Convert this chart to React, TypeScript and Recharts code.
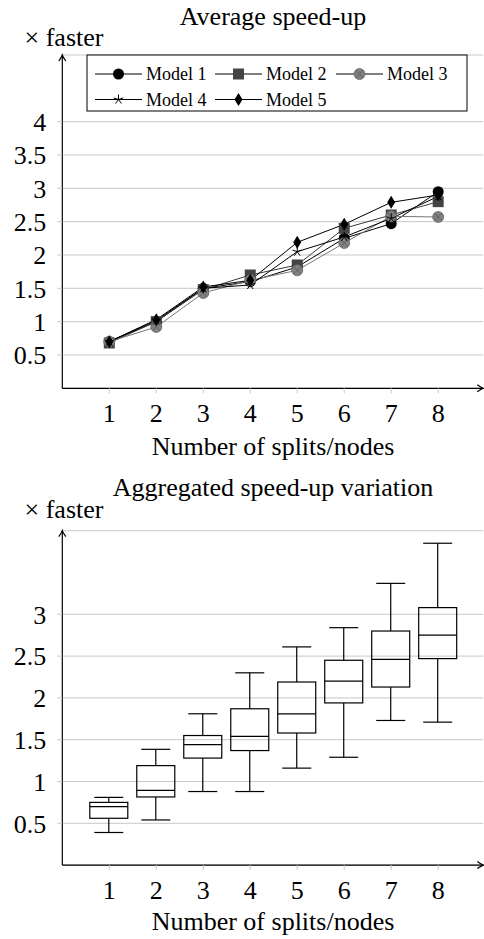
import React from "react";
import { Bar, CartesianGrid, ComposedChart, Line, LineChart, XAxis, YAxis } from "recharts";

const splits = [1, 2, 3, 4, 5, 6, 7, 8];
const model1 = [0.7, 1.0, 1.5, 1.6, 1.82, 2.25, 2.47, 2.95];
const model2 = [0.68, 1.0, 1.48, 1.7, 1.85, 2.4, 2.6, 2.8];
const model3 = [0.7, 0.92, 1.43, 1.62, 1.77, 2.18, 2.58, 2.57];
const model4 = [0.7, 1.02, 1.5, 1.55, 2.05, 2.27, 2.55, 2.88];
const model5 = [0.7, 1.03, 1.52, 1.62, 2.19, 2.46, 2.79, 2.9];

const boxMin = [0.39, 0.54, 0.88, 0.88, 1.16, 1.29, 1.73, 1.71];
const boxQ1 = [0.56, 0.815, 1.28, 1.37, 1.58, 1.94, 2.13, 2.47];
const boxMed = [0.7, 0.895, 1.44, 1.54, 1.81, 2.2, 2.46, 2.75];
const boxQ3 = [0.75, 1.19, 1.55, 1.87, 2.19, 2.45, 2.8, 3.08];
const boxMax = [0.81, 1.385, 1.81, 2.3, 2.61, 2.84, 3.37, 3.85];

const yTicksTop = [0.5, 1, 1.5, 2, 2.5, 3, 3.5, 4];
const yTicksBottom = [0.5, 1, 1.5, 2, 2.5, 3];

const FONT = "Liberation Serif";

const lineData = splits.map((n, i) => ({
  n,
  m1: model1[i],
  m2: model2[i],
  m3: model3[i],
  m4: model4[i],
  m5: model5[i],
}));

const boxData = splits.map((n, i) => ({
  n,
  min: boxMin[i],
  q1: boxQ1[i],
  med: boxMed[i],
  q3: boxQ3[i],
  max: boxMax[i],
}));

type Kind = "circle" | "square" | "otimes" | "star" | "diamond";

const models: { key: string; name: string; kind: Kind; stroke: string }[] = [
  { key: "m1", name: "Model 1", kind: "circle", stroke: "#000" },
  { key: "m2", name: "Model 2", kind: "square", stroke: "#3a3a3a" },
  { key: "m3", name: "Model 3", kind: "otimes", stroke: "#777" },
  { key: "m4", name: "Model 4", kind: "star", stroke: "#000" },
  { key: "m5", name: "Model 5", kind: "diamond", stroke: "#000" },
];

function Marker({ kind, cx, cy }: { kind: Kind; cx: number; cy: number }) {
  if (cx == null || cy == null) return null;
  switch (kind) {
    case "circle":
      return <circle cx={cx} cy={cy} r={5.5} fill="#000" />;
    case "square":
      return <rect x={cx - 5.5} y={cy - 5.5} width={11} height={11} fill="#444" />;
    case "otimes":
      return (
        <g>
          <circle cx={cx} cy={cy} r={5.5} fill="#808080" stroke="#6a6a6a" strokeWidth={0.8} />
          <path
            d={`M${cx - 3.8},${cy - 3.8}L${cx + 3.8},${cy + 3.8}M${cx - 3.8},${cy + 3.8}L${cx + 3.8},${cy - 3.8}`}
            stroke="#5a5a5a"
            strokeWidth={0.8}
          />
        </g>
      );
    case "star": {
      let d = "";
      for (let k = 0; k < 5; k++) {
        const a = -Math.PI / 2 + (k * 2 * Math.PI) / 5;
        d += `M${cx},${cy}L${cx + 5 * Math.cos(a)},${cy + 5 * Math.sin(a)}`;
      }
      return <path d={d} stroke="#000" strokeWidth={1} fill="none" />;
    }
    case "diamond":
      return (
        <path d={`M${cx},${cy - 6.5}L${cx + 4},${cy}L${cx},${cy + 6.5}L${cx - 4},${cy}Z`} fill="#000" />
      );
  }
  return null;
}

function BoxShape(props: any) {
  const { x, y, width, height, payload } = props;
  if (!payload) return null;
  const span = payload.max - payload.min;
  const px = (v: number) => y + ((payload.max - v) / span) * height;
  const cx = x + width / 2;
  const cap = 14.5;
  return (
    <g stroke="#000" strokeWidth={1.2} fill="none">
      <line x1={cx} x2={cx} y1={px(payload.max)} y2={px(payload.q3)} />
      <line x1={cx} x2={cx} y1={px(payload.q1)} y2={px(payload.min)} />
      <line x1={cx - cap} x2={cx + cap} y1={px(payload.max)} y2={px(payload.max)} />
      <line x1={cx - cap} x2={cx + cap} y1={px(payload.min)} y2={px(payload.min)} />
      <rect x={x} y={px(payload.q3)} width={width} height={px(payload.q1) - px(payload.q3)} />
      <line x1={x} x2={x + width} y1={px(payload.med)} y2={px(payload.med)} />
    </g>
  );
}

const tickStyle = { fill: "#000", fontSize: 26, fontFamily: FONT };

function Legend() {
  const cols = [95, 215, 336];
  const rows = [74, 99.5];
  return (
    <g>
      <rect x={87} y={55} width={380} height={56} fill="#fff" stroke="#000" strokeWidth={1} />
      {models.map((m, i) => {
        const lx = cols[i % 3];
        const ly = rows[Math.floor(i / 3)];
        return (
          <g key={m.key}>
            <line x1={lx} x2={lx + 47} y1={ly} y2={ly} stroke="#000" strokeWidth={1} />
            <Marker kind={m.kind} cx={lx + 23.5} cy={ly} />
            <text x={lx + 51} y={ly + 6} fontSize={18} fontFamily={FONT} fill="#000">
              {m.name}
            </text>
          </g>
        );
      })}
    </g>
  );
}

export default function App() {
  const textProps = { fontFamily: FONT, fontSize: 26, fill: "#000", textAnchor: "middle" as const };
  return (
    <div
      style={{
        position: "absolute",
        left: 0,
        top: 0,
        width: 484,
        height: 939,
        background: "#fff",
        fontFamily: FONT,
      }}
    >
      <style>{`body{margin:0;overflow:hidden;background:#fff}`}</style>
      <div style={{ position: "absolute", left: 0, top: 0 }}>
        <LineChart width={484} height={470} data={lineData} margin={{ top: 55, right: 0.7, bottom: 51.7, left: 0 }}>
          <CartesianGrid vertical={false} stroke="#c8c8c8" strokeWidth={1} />
          <XAxis
            type="number"
            dataKey="n"
            domain={[0, 8.96]}
            ticks={splits}
            interval={0}
            height={30}
            tickSize={5}
            tickMargin={10}
            tickLine={{ stroke: "#c8c8c8" }}
            axisLine={{ stroke: "#000", strokeWidth: 1.2, markerEnd: "url(#arrowHead)" }}
            tick={tickStyle}
          />
          <YAxis
            type="number"
            domain={[0, 5]}
            ticks={yTicksTop}
            interval={0}
            width={62.3}
            tickSize={5}
            tickMargin={11}
            tickLine={{ stroke: "#c8c8c8" }}
            axisLine={{ stroke: "#000", strokeWidth: 1.2, markerStart: "url(#arrowHead)" }}
            tick={tickStyle}
          />
          {models.map((m) => (
            <Line
              key={m.key}
              dataKey={m.key}
              name={m.name}
              type="linear"
              stroke={m.stroke}
              strokeWidth={1}
              isAnimationActive={false}
              dot={(p: any) => <Marker key={`${m.key}-${p.index}`} kind={m.kind} cx={p.cx} cy={p.cy} />}
              activeDot={false}
            />
          ))}
        </LineChart>
      </div>
      <div style={{ position: "absolute", left: 0, top: 470 }}>
        <ComposedChart width={484} height={469} data={boxData} margin={{ top: 60.7, right: 0.7, bottom: 43.9, left: 0 }}>
          <CartesianGrid vertical={false} stroke="#c8c8c8" strokeWidth={1} />
          <XAxis
            type="number"
            dataKey="n"
            domain={[0, 8.96]}
            ticks={splits}
            interval={0}
            height={30}
            tickSize={5}
            tickMargin={10}
            tickLine={{ stroke: "#c8c8c8" }}
            axisLine={{ stroke: "#000", strokeWidth: 1.2, markerEnd: "url(#arrowHead)" }}
            tick={tickStyle}
          />
          <YAxis
            type="number"
            domain={[0, 4]}
            ticks={yTicksBottom}
            interval={0}
            width={62.3}
            tickSize={5}
            tickMargin={11}
            tickLine={{ stroke: "#c8c8c8" }}
            axisLine={{ stroke: "#000", strokeWidth: 1.2, markerStart: "url(#arrowHead)" }}
            tick={tickStyle}
          />
          <Bar
            dataKey={(d: any) => [d.min, d.max]}
            barSize={38}
            shape={BoxShape}
            isAnimationActive={false}
          />
        </ComposedChart>
      </div>
      <svg
        width={484}
        height={939}
        style={{ position: "absolute", left: 0, top: 0, pointerEvents: "none", overflow: "visible" }}
      >
        <defs>
          <marker
            id="arrowHead"
            viewBox="-8 -5 10 10"
            refX={0}
            refY={0}
            markerWidth={10}
            markerHeight={10}
            markerUnits="userSpaceOnUse"
            orient="auto-start-reverse"
          >
            <path d="M-6,-3.5 Q-2,-0.6 0,0 Q-2,0.6 -6,3.5" stroke="#000" strokeWidth={1.2} fill="none" />
          </marker>
        </defs>
        <text x={273} y={25} {...textProps}>Average speed-up</text>
        <text x={64} y={46} {...textProps}>× faster</text>
        <text x={273} y={455} {...textProps}>Number of splits/nodes</text>
        <Legend />
        <text x={273} y={496} {...textProps}>Aggregated speed-up variation</text>
        <text x={64} y={518} {...textProps}>× faster</text>
        <text x={273} y={930} {...textProps}>Number of splits/nodes</text>
      </svg>
    </div>
  );
}
